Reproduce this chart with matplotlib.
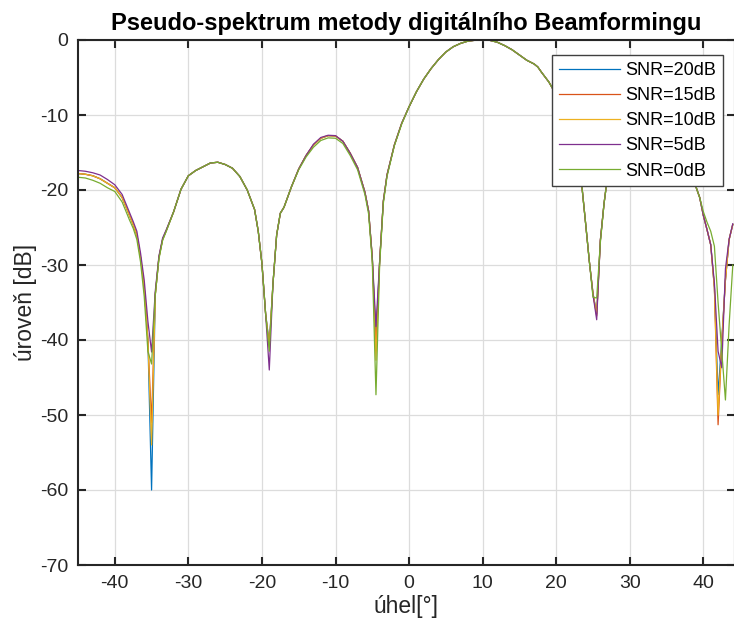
import numpy as np
import matplotlib.pyplot as plt

plt.rcParams['font.family'] = ['Liberation Sans', 'DejaVu Sans']
plt.rcParams['axes.unicode_minus'] = False

# uhel [deg]
theta = [-45, -44, -43, -42, -41, -40, -39, -38, -37.5, -37, -36.5, -36, -35.5, -35,
         -34.5, -34, -33.5, -33, -32, -31, -30, -29, -28, -27, -26, -25, -24, -23,
         -22, -21, -20.5, -20, -19.5, -19, -18.5, -18, -17.5, -17, -16, -15, -14,
         -13, -12, -11, -10, -9, -8, -7, -6, -5.5, -5, -4.5, -4, -3.5, -3, -2, -1,
         0, 1, 2, 3, 4, 5, 6, 7, 8, 9, 10, 11, 12, 13, 14, 15, 16, 17, 17.5, 18,
         19, 20, 21, 22, 23, 23.5, 24, 24.5, 25, 25.5, 26, 26.5, 27, 28, 29, 30,
         31, 32, 33, 34, 35, 36, 37, 38, 39, 39.5, 40, 40.5, 41, 41.5, 42, 42.5,
         43, 43.5, 44]

snr20 = [-17.8, -17.9, -18.1, -18.5, -19.1, -19.7, -21.0, -23.4, -24.6, -26.0, -29.0, -33.0, -40.0, -60.0,
         -34.0, -29.0, -26.6, -25.4, -22.9, -19.9, -18.1, -17.4, -16.9, -16.4, -16.3, -16.6, -17.1, -18.2,
         -20.0, -22.6, -25.5, -29.8, -36.5, -40.5, -32.5, -26.0, -23.1, -22.3, -19.6, -17.2, -15.4,
         -14.0, -13.1, -12.75, -12.8, -13.5, -15.1, -17.0, -20.3, -22.8, -29.0, -40.0, -29.5, -21.5, -18.0, -14.0, -11.1,
         -8.9, -6.9, -5.2, -3.8, -2.6, -1.6, -0.9, -0.45, -0.15, -0.03, 0.0, -0.05, -0.3, -0.75, -1.3, -2.0, -2.7, -3.2, -3.6, -4.3,
         -5.6, -7.3, -9.5, -12.5, -16.5, -19.6, -24.5, -29.5, -33.8, -36.5, -26.7, -21.8, -18.0, -15.0, -13.4, -12.6,
         -12.2, -12.2, -12.5, -13.1, -14.0, -15.3, -16.8, -18.2, -19.6, -21.0, -23.4, -25.3, -27.3, -33.0, -47.3, -40.0,
         -32.0, -26.6, -24.6]

snr15 = [-17.8, -17.9, -18.1, -18.5, -19.1, -19.7, -21.0, -23.4, -24.6, -26.0, -29.0, -33.0, -40.0, -51.0,
         -34.0, -29.0, -26.6, -25.4, -22.9, -19.9, -18.1, -17.4, -16.9, -16.4, -16.3, -16.6, -17.1, -18.2,
         -20.0, -22.6, -25.5, -29.8, -36.5, -40.8, -32.5, -26.0, -23.1, -22.3, -19.6, -17.2, -15.4,
         -14.0, -13.1, -12.75, -12.8, -13.5, -15.1, -17.0, -20.3, -22.8, -29.0, -40.9, -29.5, -21.5, -18.0, -14.0, -11.1,
         -8.9, -6.9, -5.2, -3.8, -2.6, -1.6, -0.9, -0.45, -0.15, -0.03, 0.0, -0.05, -0.3, -0.75, -1.3, -2.0, -2.7, -3.2, -3.6, -4.3,
         -5.6, -7.3, -9.5, -12.5, -16.5, -19.6, -24.5, -29.5, -33.8, -36.8, -26.7, -21.8, -18.0, -15.0, -13.4, -12.6,
         -12.2, -12.2, -12.5, -13.1, -14.0, -15.3, -16.8, -18.2, -19.6, -21.0, -23.4, -25.3, -27.3, -33.0, -51.3, -40.5,
         -32.0, -26.6, -24.6]

snr10 = [-17.8, -17.9, -18.1, -18.5, -19.1, -19.7, -21.0, -23.4, -24.6, -26.0, -29.0, -33.0, -40.0, -54.0,
         -34.0, -29.0, -26.6, -25.4, -22.9, -19.9, -18.1, -17.4, -16.9, -16.4, -16.3, -16.6, -17.1, -18.2,
         -20.0, -22.6, -25.5, -29.8, -36.5, -41.0, -32.5, -26.0, -23.1, -22.3, -19.6, -17.2, -15.4,
         -14.0, -13.1, -12.75, -12.8, -13.5, -15.1, -17.0, -20.3, -22.8, -29.0, -42.7, -29.5, -21.5, -18.0, -14.0, -11.1,
         -8.9, -6.9, -5.2, -3.8, -2.6, -1.6, -0.9, -0.45, -0.15, -0.03, 0.0, -0.05, -0.3, -0.75, -1.3, -2.0, -2.7, -3.2, -3.6, -4.3,
         -5.6, -7.3, -9.5, -12.5, -16.5, -19.6, -24.5, -29.5, -33.8, -36.6, -26.7, -21.8, -18.0, -15.0, -13.4, -12.6,
         -12.2, -12.2, -12.5, -13.1, -14.0, -15.3, -16.8, -18.2, -19.6, -21.0, -23.4, -25.3, -27.3, -33.0, -50.0, -40.3,
         -32.0, -26.6, -24.6]

snr5 = [-17.4, -17.5, -17.7, -18.0, -18.6, -19.3, -20.6, -23.0, -24.2, -25.5, -28.4, -32.0, -37.5, -41.6,
        -33.5, -28.8, -26.4, -25.3, -22.9, -19.9, -18.1, -17.4, -16.9, -16.4, -16.3, -16.6, -17.1, -18.2,
        -20.0, -22.6, -25.5, -29.8, -36.5, -44.0, -32.5, -26.0, -23.1, -22.3, -19.6, -17.2, -15.4,
        -13.9, -13.0, -12.7, -12.75, -13.5, -15.1, -17.0, -20.3, -22.8, -29.0, -38.2, -29.5, -21.5, -18.0, -14.0, -11.1,
        -8.9, -6.9, -5.2, -3.8, -2.6, -1.6, -0.9, -0.45, -0.15, -0.03, 0.0, -0.05, -0.3, -0.75, -1.3, -2.0, -2.7, -3.2, -3.6, -4.3,
        -5.6, -7.3, -9.5, -12.5, -16.5, -19.6, -24.5, -29.5, -34.0, -37.3, -26.7, -21.8, -18.0, -15.0, -13.4, -12.6,
        -12.2, -12.2, -12.5, -13.1, -14.0, -15.3, -16.8, -18.2, -19.6, -21.0, -23.4, -25.3, -27.3, -32.4, -41.5, -43.7,
        -30.5, -26.6, -24.5]

snr0 = [-18.3, -18.4, -18.7, -19.1, -19.7, -20.2, -21.6, -24.0, -25.1, -26.6, -29.6, -34.2, -41.5, -43.2,
        -34.0, -29.2, -26.7, -25.5, -22.9, -19.9, -18.1, -17.4, -16.9, -16.4, -16.3, -16.6, -17.1, -18.2,
        -20.0, -22.6, -25.5, -29.8, -36.5, -41.5, -32.5, -26.0, -23.1, -22.3, -19.6, -17.3, -15.6,
        -14.3, -13.4, -13.05, -13.1, -13.8, -15.4, -17.3, -20.6, -23.2, -29.6, -47.3, -30.0, -21.8, -18.2, -14.1, -11.2,
        -8.9, -6.9, -5.2, -3.8, -2.6, -1.6, -0.9, -0.45, -0.15, -0.03, 0.0, -0.05, -0.3, -0.75, -1.3, -2.0, -2.7, -3.2, -3.6, -4.3,
        -5.6, -7.3, -9.5, -12.5, -16.5, -19.6, -24.5, -29.5, -34.3, -34.4, -27.0, -21.8, -18.0, -15.0, -13.4, -12.6,
        -12.2, -12.2, -12.5, -13.1, -14.0, -15.3, -16.8, -18.2, -19.6, -21.0, -22.9, -24.3, -25.5, -27.5, -35.0, -41.5,
        -48.0, -38.0, -30.0]

labels = ['SNR=20dB', 'SNR=15dB', 'SNR=10dB', 'SNR=5dB', 'SNR=0dB']
colors = ['#0072BD', '#D95319', '#EDB120', '#7E2F8E', '#77AC30']

fig = plt.figure(figsize=(7.34, 6.25), dpi=100)
ax = fig.add_axes([78/734, 60/625, 657/734, 525/625])

for y, lab, c in zip([snr20, snr15, snr10, snr5, snr0], labels, colors):
    ax.plot(theta, y, color=c, linewidth=0.9, label=lab)

ax.set_xlim(-45, 44.3)
ax.set_ylim(-70, 0)
ax.set_xticks(np.arange(-40, 41, 10))
ax.set_yticks(np.arange(-70, 1, 10))
ax.grid(True, color='#dcdcdc', linewidth=0.9)
ax.set_axisbelow(True)
ax.tick_params(direction='in', length=6, width=1.5, top=True, right=True,
               labelsize=14, colors='#262626', pad=7)
for s in ax.spines.values():
    s.set_linewidth(1.5)
    s.set_color('#262626')

ax.set_xlabel('úhel[°]', fontsize=16.5, color='#262626', labelpad=2)
ax.set_ylabel('úroveň [dB]', fontsize=16.5, color='#262626', labelpad=2)
ax.set_title('Pseudo-spektrum metody digitálního Beamformingu', fontsize=17,
             fontweight='bold', pad=7)

leg = ax.legend(loc='upper right', bbox_to_anchor=(0.982, 0.971), fontsize=13,
                fancybox=False, framealpha=1, edgecolor='#404040',
                handlelength=3.4, borderaxespad=0, labelspacing=0.45,
                borderpad=0.38, handletextpad=0.3)
leg.get_frame().set_linewidth(1.0)

fig.savefig('out.png', dpi=100)
